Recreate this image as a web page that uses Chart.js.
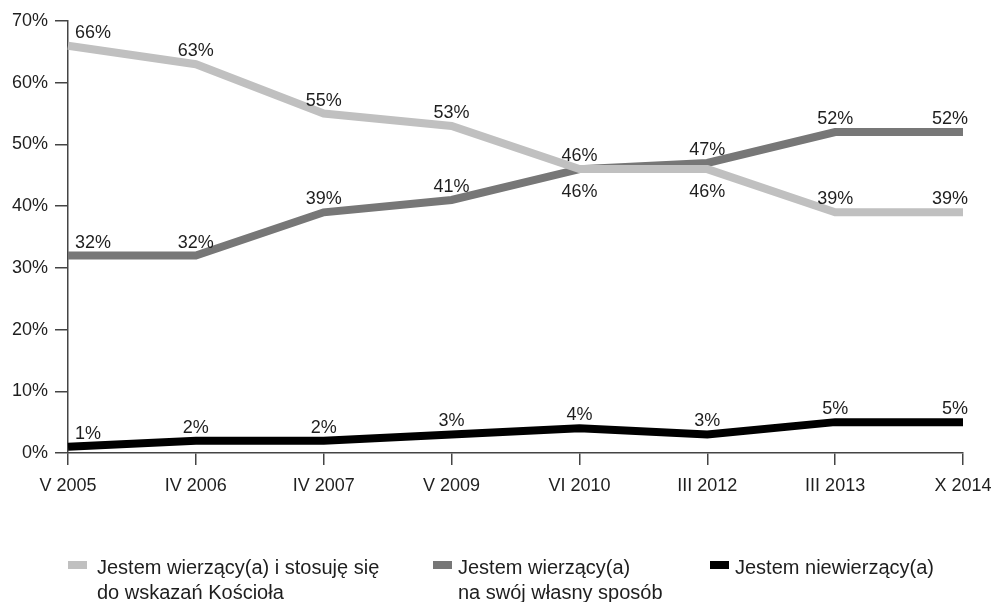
<!DOCTYPE html>
<html>
<head>
<meta charset="utf-8">
<script src="https://cdn.jsdelivr.net/npm/chart.js@4/dist/chart.umd.min.js"></script>
<style>
  html, body { margin: 0; padding: 0; background: #fff; }
  #wrap { position: relative; width: 1003px; height: 602px; }
  #legend { position: absolute; left: 0; top: 555px; width: 1003px; height: 47px;
    font-family: "Liberation Sans", Arial, sans-serif; font-size: 20px; color: #1e1e1e; }
  .item { position: absolute; top: 0; line-height: 25px; }
  .box { position: absolute; width: 19px; height: 8px; top: 6px; }
  .txt { position: absolute; white-space: nowrap; }
</style>
</head>
<body>
<div id="wrap">
  <canvas id="chart" width="1003" height="602"></canvas>
  <div id="legend"></div>
</div>
<script>
const categories = ['V 2005', 'IV 2006', 'IV 2007', 'V 2009', 'VI 2010', 'III 2012', 'III 2013', 'X 2014'];
const churchValues = [66, 63, 55, 53, 46, 46, 39, 39];
const ownWayValues = [32, 32, 39, 41, 46, 47, 52, 52];
const nonBelieverValues = [1, 2, 2, 3, 4, 3, 5, 5];
const yTicks = [0, 10, 20, 30, 40, 50, 60, 70];

const seriesNames = [
  ['Jestem wierzący(a) i stosuję się', 'do wskazań Kościoła'],
  ['Jestem wierzący(a)', 'na swój własny sposób'],
  ['Jestem niewierzący(a)']
];
const colors = ['#c0c0c0', '#777777', '#000000'];
// where each value label sits relative to its point
const labelSide = [
  ['up', 'up', 'up', 'up', 'down', 'down', 'up', 'up'],
  ['up', 'up', 'up', 'up', 'up', 'up', 'up', 'up'],
  ['up', 'up', 'up', 'up', 'up', 'up', 'up', 'up']
];

const FONT = '"Liberation Sans", Arial, sans-serif';
const TEXT = '#1e1e1e';
const AXIS = '#444';

const valueLabels = {
  id: 'valueLabels',
  afterDatasetsDraw(chart) {
    const ctx = chart.ctx;
    ctx.save();
    ctx.font = '18px ' + FONT;
    ctx.fillStyle = TEXT;
    chart.data.datasets.forEach((ds, di) => {
      const meta = chart.getDatasetMeta(di);
      meta.data.forEach((pt, i) => {
        const last = meta.data.length - 1;
        let x = pt.x;
        ctx.textAlign = 'center';
        if (i === 0) { ctx.textAlign = 'left'; x += 7; }
        if (i === last) { ctx.textAlign = 'right'; x += 5; }
        let y;
        if (labelSide[di][i] === 'down') { ctx.textBaseline = 'top'; y = pt.y + 14; }
        else { ctx.textBaseline = 'alphabetic'; y = pt.y - 8; }
        ctx.fillText(ds.data[i] + '%', x, y);
      });
    });
    ctx.restore();
  }
};

const datasets = [churchValues, ownWayValues, nonBelieverValues].map((vals, i) => ({
  label: seriesNames[i].join(' '),
  data: vals,
  borderColor: colors[i],
  backgroundColor: colors[i],
  borderWidth: 8,
  pointRadius: 0,
  tension: 0,
  borderCapStyle: 'butt',
  borderJoinStyle: 'miter',
  fill: false
}));

new Chart(document.getElementById('chart'), {
  type: 'line',
  data: { labels: categories, datasets },
  options: {
    responsive: false,
    animation: false,
    layout: { padding: { top: 21, right: 40, left: 0, bottom: 0 } },
    plugins: { legend: { display: false }, tooltip: { enabled: false } },
    scales: {
      x: {
        offset: false,
        grid: { drawOnChartArea: false, drawTicks: true, tickLength: 12, color: AXIS, lineWidth: 1.5 },
        border: { color: AXIS, width: 1.5 },
        ticks: { color: TEXT, font: { family: FONT, size: 18 }, padding: 10, maxRotation: 0, autoSkip: false },
        afterFit: s => { s.height = 149; }
      },
      y: {
        min: 0, max: 70,
        afterBuildTicks: s => { s.ticks = yTicks.map(v => ({ value: v })); },
        grid: { drawOnChartArea: false, drawTicks: true, tickLength: 13, color: AXIS, lineWidth: 1.5 },
        border: { color: AXIS, width: 1.5 },
        ticks: { color: TEXT, font: { family: FONT, size: 18 }, padding: 7, callback: v => v + '%' },
        afterFit: s => { s.width = 68; }
      }
    }
  },
  plugins: [valueLabels]
});

// legend below the plot: [box left, text left]
const legendX = [[68, 97], [433, 458], [710, 735]];
const legend = document.getElementById('legend');
seriesNames.forEach((lines, i) => {
  const item = document.createElement('div');
  item.className = 'item';
  item.style.left = legendX[i][0] + 'px';
  const box = document.createElement('span');
  box.className = 'box';
  box.style.background = colors[i];
  box.style.left = '0px';
  const txt = document.createElement('span');
  txt.className = 'txt';
  txt.style.left = (legendX[i][1] - legendX[i][0]) + 'px';
  txt.innerHTML = lines.join('<br>');
  item.appendChild(box);
  item.appendChild(txt);
  legend.appendChild(item);
});
</script>
</body>
</html>
